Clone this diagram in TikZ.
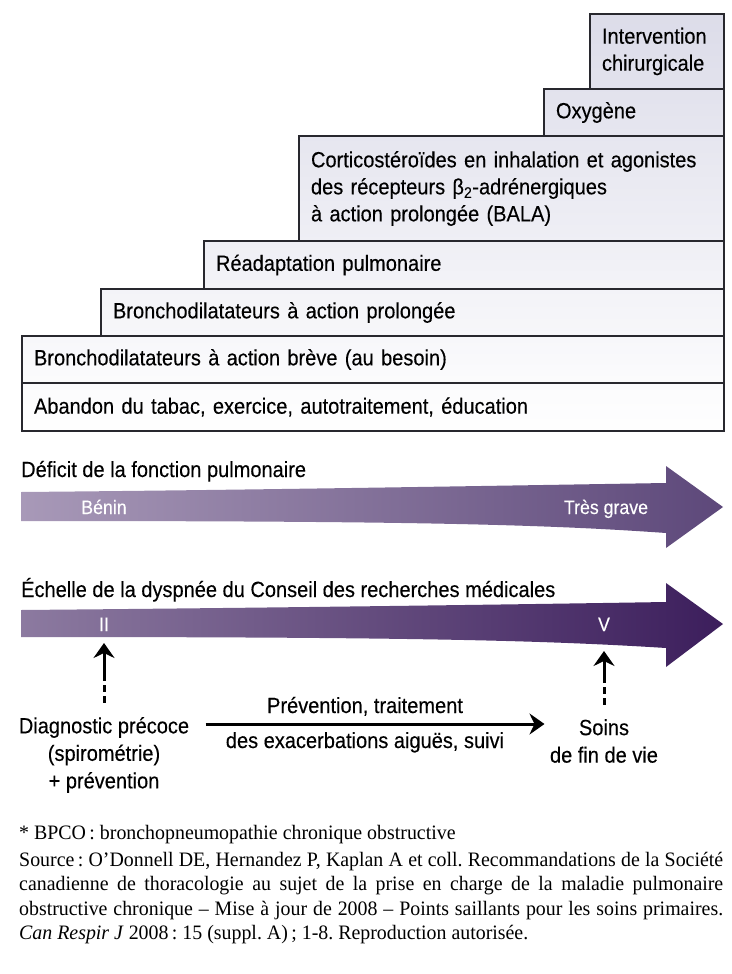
\documentclass[tikz,border=0pt]{standalone}
\usepackage{fontspec}
\setmainfont{Liberation Sans}[FakeStretch=0.91, FakeBold=0.25]
\newfontfamily\notefont{Liberation Serif}[FakeStretch=0.97]
\usetikzlibrary{arrows.meta}
\frenchspacing

\definecolor{boxline}{RGB}{40,40,46}
\definecolor{boxtint}{RGB}{220,220,233}
\definecolor{deficitleft}{RGB}{168,153,184}
\definecolor{deficitright}{RGB}{93,72,122}
\definecolor{dyspnealeft}{RGB}{140,122,160}
\definecolor{dyspnearight}{RGB}{60,30,92}

\tikzset{
  stepbox/.style={draw=boxline, line width=2pt, anchor=north west,
    inner xsep=12pt, inner ysep=0pt, align=left,
    font=\fontsize{22}{27}\selectfont},
  heading/.style={anchor=base west, inner sep=0pt, font=\fontsize{22}{27}\selectfont},
  barlabel/.style={anchor=base, inner sep=0pt, text=white, font=\fontsize{19.5}{22}\selectfont},
  stage/.style={align=center, font=\fontsize{22}{27.5}\selectfont},
  pointer/.style={line width=3pt, -{Stealth[length=15pt,width=21pt,inset=5pt]}},
  uppointer/.style={pointer, dash pattern=on 7pt off 4pt on 7pt off 4pt on 90pt off 1pt},
  noteline/.style={anchor=base west, inner sep=0pt, font=\notefont\fontsize{20.5}{24}\selectfont}
}

\begin{document}
\begin{tikzpicture}[x=1pt,y=-1pt]
  \useasboundingbox (0,0) rectangle (731,974);

  % stairs of treatments
  \node[stepbox, top color=boxtint!11!white, bottom color=boxtint!2!white,
    minimum height=48pt, text width=678pt] (quit) at (21,382)
    {Abandon du tabac, exercice, autotraitement, éducation};
  \node[stepbox, top color=boxtint!23!white, bottom color=boxtint!11!white,
    minimum height=47pt, text width=678pt] (shortacting) at (21,335)
    {Bronchodilatateurs à action brève (au besoin)};
  \node[stepbox, top color=boxtint!34!white, bottom color=boxtint!23!white,
    minimum height=47pt, text width=599pt] (longacting) at (100,288)
    {Bronchodilatateurs à action prolongée};
  \node[stepbox, top color=boxtint!46!white, bottom color=boxtint!34!white,
    minimum height=48pt, text width=496pt] (rehab) at (203,240)
    {Réadaptation pulmonaire};
  \node[stepbox, top color=boxtint!71!white, bottom color=boxtint!46!white,
    minimum height=105pt, text width=401pt] (steroids) at (298,135)
    {Corticostéroïdes en inhalation et agonistes\\
     des récepteurs β\textsubscript{2}-adrénergiques\\
     à action prolongée (BALA)};
  \node[stepbox, top color=boxtint!82!white, bottom color=boxtint!71!white,
    minimum height=47pt, text width=156pt] (oxygen) at (543,88)
    {Oxygène};
  \node[stepbox, top color=boxtint!100!white, bottom color=boxtint!82!white,
    minimum height=75pt, text width=110pt] (surgery) at (589,13)
    {Intervention\\chirurgicale};

  % lung function bar
  \node[heading] (deficit) at (21,477) {Déficit de la fonction pulmonaire};
  \path[left color=deficitleft, right color=deficitright]
    (21,492) .. controls (250,490) and (480,486) .. (666,483)
    -- (666,466) -- (723,507) -- (666,548) -- (666,533)
    .. controls (540,524) and (400,521) .. (21,521) -- cycle;
  \node[barlabel] (mild) at (104,514) {Bénin};
  \node[barlabel] (severe) at (606,514) {Très grave};

  % dyspnea bar
  \node[heading] (dyspnea) at (21,597) {Échelle de la dyspnée du Conseil des recherches médicales};
  \path[left color=dyspnealeft, right color=dyspnearight]
    (21,610) .. controls (250,608) and (480,605) .. (666,602)
    -- (666,583) -- (723,624) -- (666,667) -- (666,648)
    .. controls (540,640) and (400,637) .. (21,637) -- cycle;
  \node[barlabel] (two) at (104,631) {II};
  \node[barlabel] (five) at (604,631) {V};

  % stages of care
  \node[stage] (diag) at (104,755) {Diagnostic précoce\\(spirométrie)\\+ prévention};
  \node[stage] (soins) at (604,741) {Soins\\de fin de vie};
  \node[anchor=base, inner sep=0pt, font=\fontsize{22}{27}\selectfont] (treat) at (365,713)
    {Prévention, traitement};
  \node[anchor=base, inner sep=0pt, font=\fontsize{22}{27}\selectfont] (follow) at (365,748)
    {des exacerbations aiguës, suivi};
  \coordinate (flow) at (365,724);
  \coordinate (twotip) at (104,643);
  \coordinate (fivetip) at (604,651);

  \draw[uppointer, shorten <=11pt] (diag.north) -- (twotip);
  \draw[uppointer, shorten <=11pt] (soins.north) -- (fivetip);
  \draw[pointer, shorten <=13pt, shorten >=2pt] (diag.east |- flow) -- (soins.west |- flow);

  % notes
  \node[noteline] (abbr) at (19,839)
    {* BPCO\,: bronchopneumopathie chronique obstructive};
  \node[noteline] (src1) at (19,866)
    {\makebox[704pt][s]{Source\,: O’Donnell DE, Hernandez P, Kaplan A et coll. Recommandations de la Société}};
  \node[noteline] (src2) at (19,890.5)
    {\makebox[704pt][s]{canadienne de thoracologie au sujet de la prise en charge de la maladie pulmonaire}};
  \node[noteline] (src3) at (19,915)
    {\makebox[704pt][s]{obstructive chronique – Mise à jour de 2008 – Points saillants pour les soins primaires.}};
  \node[noteline] (src4) at (19,939.5)
    {\textit{Can Respir J} 2008\,: 15 (suppl. A)\,; 1-8. Reproduction autorisée.};
\end{tikzpicture}
\end{document}
